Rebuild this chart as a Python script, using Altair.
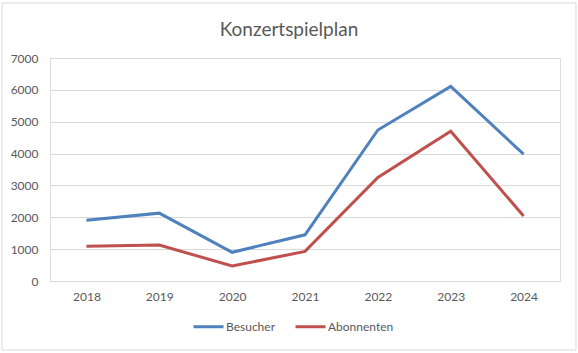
import altair as alt
import pandas as pd

years = ["2018", "2019", "2020", "2021", "2022", "2023", "2024"]
besucher = [1910, 2130, 900, 1450, 4740, 6110, 3980]
abonnenten = [1090, 1130, 470, 930, 3250, 4700, 2040]
series = ["Besucher", "Abonnenten"]
colors = ["#4F81BD", "#C0504D"]

rows = []
for name, vals in zip(series, [besucher, abonnenten]):
    for y, v in zip(years, vals):
        rows.append({"Jahr": y, "Wert": v, "Reihe": name})
df = pd.DataFrame(rows)

FONT = "Lato"
TXT = "#595959"

lines = alt.Chart(df).mark_line(strokeWidth=3).encode(
    x=alt.X("Jahr:O", sort=years, title=None,
            scale=alt.Scale(type="point", padding=0.5),
            axis=alt.Axis(labelAngle=0, ticks=False, domain=False, grid=False,
                          labelPadding=10, labelFontSize=12, labelColor=TXT, labelFont=FONT)),
    y=alt.Y("Wert:Q", title=None,
            scale=alt.Scale(domain=[0, 7000], nice=False),
            axis=alt.Axis(values=[0, 1000, 2000, 3000, 4000, 5000, 6000, 7000], format="d",
                          ticks=False, domain=False, gridColor="#d9d9d9",
                          labelPadding=12, labelFontSize=12, labelColor=TXT, labelFont=FONT)),
    color=alt.Color("Reihe:N", sort=series,
                    scale=alt.Scale(domain=series, range=colors),
                    legend=alt.Legend(title=None, orient="none", direction="horizontal",
                                      legendX=142, legendY=252,
                                      symbolType="stroke", symbolSize=900, symbolStrokeWidth=3,
                                      labelFontSize=12, labelColor=TXT, labelFont=FONT,
                                      labelOffset=1, columnPadding=13)),
)

border = alt.Chart(pd.DataFrame({"b": [0]})).mark_rect(
    fill=None, stroke="#d9d9d9", strokeWidth=1, clip=False
).encode(x=alt.value(-48), x2=alt.value(526), y=alt.value(-55), y2=alt.value(292))

chart = alt.layer(border, lines).properties(
    width=510, height=223,
    title=alt.Title("Konzertspielplan", fontSize=19, font=FONT, fontWeight="normal",
                    color=TXT, offset=-37, dx=-16, anchor="middle"),
    autosize=alt.AutoSizeParams(type="none"),
    padding={"left": 50, "top": 58, "right": 18, "bottom": 72},
).configure_view(stroke=None).configure(background="white")

chart.save("out.html", embed_options={"renderer": "svg", "actions": False})
